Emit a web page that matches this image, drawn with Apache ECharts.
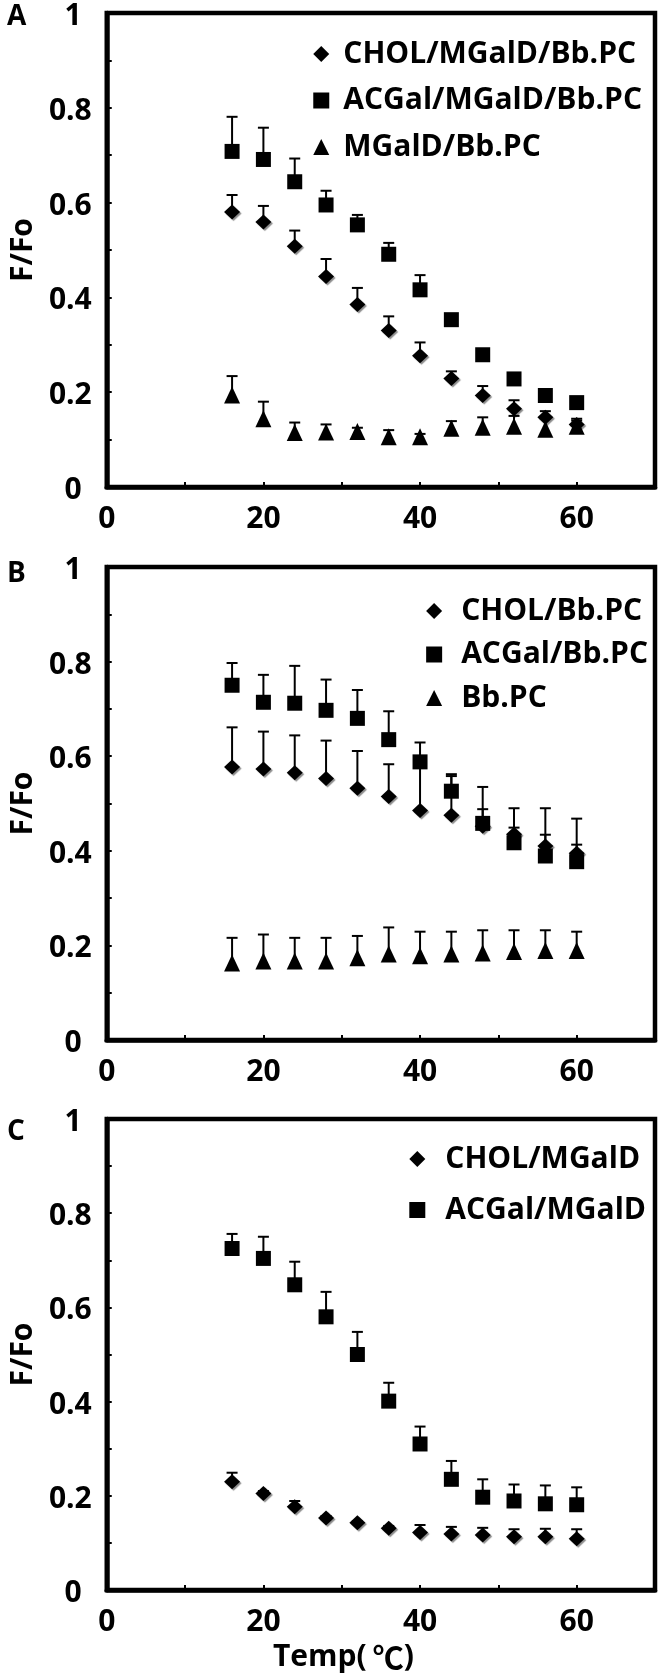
<!DOCTYPE html>
<html><head><meta charset="utf-8">
<script src="https://cdn.jsdelivr.net/npm/echarts@6/dist/echarts.min.js"></script>
<style>html,body{margin:0;padding:0;background:#fff}#c{width:664px;height:1676px}</style>
</head><body><div id="c"></div>
<script>
// Temperatures (°C)
const temps = [16, 20, 24, 28, 32, 36, 40, 44, 48, 52, 56, 60];
// X tick labels shown: 0, 20, 40, 60 ; Y tick labels: 0 .. 1 step 0.2

// Panel A
const aCholMgaldBbpc     = [0.580, 0.559, 0.508, 0.444, 0.385, 0.330, 0.277, 0.229, 0.193, 0.165, 0.147, 0.132];
const aCholMgaldBbpcTop  = [0.616, 0.593, 0.541, 0.481, 0.420, 0.360, 0.305, 0.244, 0.213, 0.183, 0.160, 0.144];
const aAcgalMgaldBbpc    = [0.708, 0.691, 0.644, 0.595, 0.553, 0.491, 0.416, 0.353, 0.279, 0.228, 0.193, 0.178];
const aAcgalMgaldBbpcTop = [0.781, 0.758, 0.693, 0.625, 0.574, 0.515, 0.447, 0.362, 0.285, 0.236, 0.200, 0.185];
const aMgaldBbpc         = [0.194, 0.144, 0.115, 0.116, 0.117, 0.106, 0.106, 0.124, 0.126, 0.128, 0.122, 0.128];
const aMgaldBbpcTop      = [0.234, 0.180, 0.136, 0.132, 0.125, 0.120, 0.112, 0.139, 0.147, 0.150, 0.145, 0.140];

// Panel B
const bCholBbpc     = [0.577, 0.573, 0.565, 0.553, 0.532, 0.515, 0.485, 0.475, 0.452, 0.435, 0.410, 0.395];
const bCholBbpcTop  = [0.661, 0.652, 0.644, 0.633, 0.611, 0.583, 0.575, 0.558, 0.488, 0.449, 0.434, 0.413];
const bAcgalBbpc    = [0.750, 0.714, 0.712, 0.697, 0.680, 0.635, 0.588, 0.526, 0.458, 0.417, 0.389, 0.377];
const bAcgalBbpcTop = [0.797, 0.772, 0.791, 0.762, 0.740, 0.695, 0.629, 0.562, 0.535, 0.490, 0.490, 0.468];
const bBbpc         = [0.163, 0.167, 0.167, 0.167, 0.174, 0.182, 0.178, 0.182, 0.184, 0.187, 0.189, 0.189];
const bBbpcTop      = [0.216, 0.223, 0.216, 0.216, 0.220, 0.238, 0.229, 0.229, 0.232, 0.232, 0.232, 0.229];

// Panel C
const cCholMgald     = [0.230, 0.205, 0.177, 0.153, 0.143, 0.131, 0.122, 0.119, 0.117, 0.113, 0.113, 0.109];
const cCholMgaldTop  = [0.249, 0.210, 0.189, 0.157, 0.146, 0.136, 0.138, 0.134, 0.132, 0.129, 0.130, 0.129];
const cAcgalMgald    = [0.725, 0.704, 0.648, 0.580, 0.500, 0.401, 0.310, 0.235, 0.197, 0.189, 0.183, 0.181];
const cAcgalMgaldTop = [0.756, 0.750, 0.697, 0.633, 0.548, 0.440, 0.347, 0.274, 0.235, 0.224, 0.222, 0.218];

const FONT = '"Open Sans", "Noto Sans CJK SC", sans-serif';
const TICK_FS = 30;
const LEG_FS = 30;

const SYM = {
  diamond: {symbol: 'diamond', size: [16, 15], shadow: true},
  square: {symbol: 'rect', size: [15, 15], shadow: false},
  triangle: {symbol: 'triangle', size: [16, 17], shadow: false}
};

const panels = [
  {label: 'A', labelY: 17.5, top: 13, height: 474,
   legendRight: 22, legendTop: 39, legendGap: 16.5, legendPad: 9, series: [
    {name: 'CHOL/MGalD/Bb.PC', sym: 'diamond', v: aCholMgaldBbpc, t: aCholMgaldBbpcTop},
    {name: 'ACGal/MGalD/Bb.PC', sym: 'square', v: aAcgalMgaldBbpc, t: aAcgalMgaldBbpcTop},
    {name: 'MGalD/Bb.PC', sym: 'triangle', v: aMgaldBbpc, t: aMgaldBbpcTop}
  ]},
  {label: 'B', labelY: 574, top: 567, height: 473,
   legendRight: 16, legendTop: 596, legendGap: 13.5, legendPad: 14, series: [
    {name: 'CHOL/Bb.PC', sym: 'diamond', v: bCholBbpc, t: bCholBbpcTop},
    {name: 'ACGal/Bb.PC', sym: 'square', v: bAcgalBbpc, t: bAcgalBbpcTop},
    {name: 'Bb.PC', sym: 'triangle', v: bBbpc, t: bBbpcTop}
  ]},
  {label: 'C', labelY: 1132, top: 1119, height: 471,
   legendRight: 18, legendTop: 1144, legendGap: 21, legendPad: 15, series: [
    {name: 'CHOL/MGalD', sym: 'diamond', v: cCholMgald, t: cCholMgaldTop},
    {name: 'ACGal/MGalD', sym: 'square', v: cAcgalMgald, t: cAcgalMgaldTop}
  ]}
];

const grid = [], xAxis = [], yAxis = [], series = [], legend = [], title = [];

panels.forEach((p, i) => {
  grid.push({left: 103.5, width: 551.5, top: p.top, height: p.height, show: true,
    borderColor: '#000', borderWidth: 4.5, backgroundColor: 'transparent'});
  xAxis.push({type: 'value', gridIndex: i, min: 0, max: 70, interval: 10,
    axisLine: {show: true, onZero: false, lineStyle: {color: '#000', width: 4.5}},
    axisTick: {show: true, inside: true, length: 5, lineStyle: {color: '#000', width: 2}},
    splitLine: {show: false},
    axisLabel: {margin: 17, color: '#000', fontFamily: FONT, fontWeight: 'bold', fontSize: TICK_FS,
      formatter: v => (v % 20 === 0 ? String(v) : '')}});
  yAxis.push({type: 'value', gridIndex: i, min: 0, max: 1, interval: 0.1,
    name: 'F/Fo', nameLocation: 'middle', nameGap: 67, nameRotate: 90,
    nameTextStyle: {color: '#000', fontFamily: FONT, fontWeight: 'bold', fontSize: 30},
    axisLine: {show: true, onZero: false, lineStyle: {color: '#000', width: 4.5}},
    axisTick: {show: true, inside: true, length: 5, lineStyle: {color: '#000', width: 2}},
    splitLine: {show: false},
    axisLabel: {margin: 15, color: '#000', fontFamily: FONT, fontWeight: 'bold', fontSize: TICK_FS,
      padding: [7, 0, 0, 0],
      rich: {i: {fontFamily: FONT, fontWeight: 'bold', fontSize: TICK_FS, color: '#000', padding: [0, 10, 0, 0]}},
      formatter: v => {
        const r = Math.round(v * 10);
        if (r % 2 !== 0) return '';
        if (r === 0 || r === 10) return '{i|' + String(r / 10) + '}';
        return String(r / 10);
      }}});

  p.series.forEach(s => {
    const sy = SYM[s.sym];
    series.push({
      type: 'custom', xAxisIndex: i, yAxisIndex: i, silent: true, z: 2,
      encode: {x: 0, y: [1, 2]},
      data: temps.map((t, k) => [t, s.v[k], s.t[k]]),
      renderItem: (params, api) => {
        const p0 = api.coord([api.value(0), api.value(1)]);
        const p1 = api.coord([api.value(0), api.value(2)]);
        return {type: 'group', children: [
          {type: 'line', shape: {x1: p0[0], y1: p0[1], x2: p1[0], y2: p1[1]}, style: {stroke: '#000', lineWidth: 2}},
          {type: 'line', shape: {x1: p1[0] - 5.5, y1: p1[1], x2: p1[0] + 5.5, y2: p1[1]}, style: {stroke: '#000', lineWidth: 2}}
        ]};
      }
    });
    const itemStyle = {color: '#000', opacity: 1};
    if (sy.shadow) {
      itemStyle.shadowColor = 'rgba(0,0,0,0.45)';
      itemStyle.shadowOffsetX = 1.5;
      itemStyle.shadowOffsetY = 1.5;
      itemStyle.shadowBlur = 1;
    }
    series.push({
      type: 'scatter', name: s.name, xAxisIndex: i, yAxisIndex: i, z: 3,
      symbol: sy.symbol, symbolSize: sy.size, itemStyle: itemStyle,
      emphasis: {disabled: true},
      data: temps.map((t, k) => [t, s.v[k]])
    });
  });

  legend.push({
    data: p.series.map(s => s.name), orient: 'vertical', right: p.legendRight, top: p.legendTop,
    itemGap: p.legendGap, itemWidth: 16, itemHeight: 16, selectedMode: false, padding: 0,
    textStyle: {fontFamily: FONT, fontWeight: 'bold', fontSize: LEG_FS, color: '#000', lineHeight: LEG_FS,
      padding: [0, 0, 0, p.legendPad]}
  });

  title.push({text: p.label, left: 7, top: p.labelY - 14.5, padding: 0,
    textStyle: {fontFamily: '"Open Sans", sans-serif', fontWeight: 'bold', fontSize: 28, lineHeight: 29, color: '#000'}});
});

const graphic = [{type: 'text', silent: true, style: {
  text: '{a|Temp(}{b|℃}{a|)}', x: 273, y: 1657,
  fill: '#000', align: 'left', verticalAlign: 'middle', textAlign: 'left', textVerticalAlign: 'middle',
  rich: {
    a: {fontSize: 30, fontWeight: 'bold', fontFamily: '"Open Sans", sans-serif', fill: '#000'},
    b: {fontSize: 31, fontWeight: 'bold', fontFamily: '"Noto Sans CJK SC", sans-serif', fill: '#000', padding: [0, 0, 0, 6]}
  }}}];

const chart = echarts.init(document.getElementById('c'), null, {renderer: 'canvas'});
chart.setOption({
  animation: false,
  backgroundColor: '#fff',
  title, grid, xAxis, yAxis, series, legend, graphic
});
</script>
</body></html>
